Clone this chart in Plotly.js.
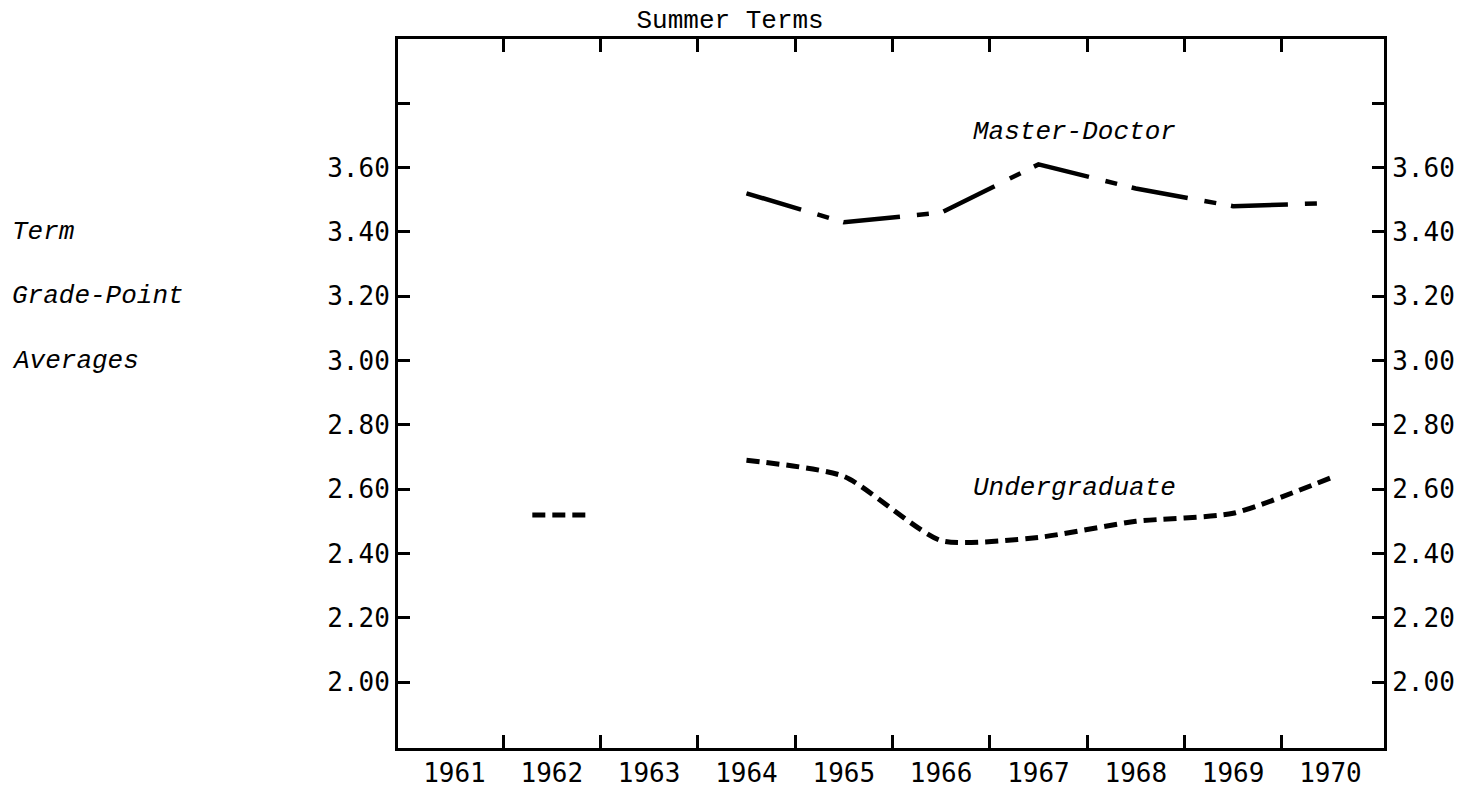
<!DOCTYPE html>
<html>
<head>
<meta charset="utf-8">
<script src="https://cdn.plot.ly/plotly-3.0.1.min.js"></script>
<style>
  html, body { margin: 0; padding: 0; background: #ffffff; }
  #chart { width: 1469px; height: 787px; }
</style>
</head>
<body>
<div id="chart"></div>
<script>
// ---- data ----
var underYears = [1964, 1965, 1966, 1967, 1968, 1969, 1970];
var underGPA   = [2.69, 2.64, 2.44, 2.45, 2.50, 2.525, 2.635];
var under1962Year = 1962;
var under1962GPA  = 2.52;
var masterYears = [1964, 1965, 1966, 1967, 1968, 1969, 1970];
var masterGPA   = [3.52, 3.43, 3.46, 3.61, 3.535, 3.48, 3.49];
var yearLabels = ['1961','1962','1963','1964','1965','1966','1967','1968','1969','1970'];
var yTickVals  = [2.0, 2.2, 2.4, 2.6, 2.8, 3.0, 3.2, 3.4, 3.6, 3.8];
var yTickText  = ['2.00','2.20','2.40','2.60','2.80','3.00','3.20','3.40','3.60',''];
var sideLabels = ['Term', 'Grade-Point', 'Averages'];
var sideLabelY = [3.40, 3.20, 3.00];

// ---- derived helpers ----
var yearVals = yearLabels.map(Number);
var boundaryVals = yearVals.slice(0, -1).map(function (v) { return v + 0.5; });
var halfBar = [-0.2, 0.37]; // visual extent of the lone 1962 mark

var xRange = [1960.42, 1970.55];
var yRange = [1.795, 4.0];

var ink = '#000000';
var monoSerif = 'Courier, "Courier New", "Nimbus Mono PS", "Nimbus Mono L", FreeMono, "Liberation Mono", monospace';
var tickFont = { family: 'DejaVu Sans Mono, monospace', size: 26, color: ink };
var italicFont = { family: monoSerif, size: 26, color: ink, style: 'italic' };

var traces = [
  {
    x: underYears, y: underGPA, type: 'scatter', mode: 'lines',
    line: { color: ink, width: 5, dash: '13px,7px', shape: 'spline', smoothing: 0.6 },
    xaxis: 'x', yaxis: 'y', hoverinfo: 'skip'
  },
  {
    x: halfBar.map(function (d) { return under1962Year + d; }),
    y: [under1962GPA, under1962GPA],
    type: 'scatter', mode: 'lines',
    line: { color: ink, width: 5, dash: '13px,7px' },
    xaxis: 'x', yaxis: 'y', hoverinfo: 'skip'
  },
  {
    x: masterYears, y: masterGPA, type: 'scatter', mode: 'lines',
    line: { color: ink, width: 4.5, dash: '57px,17px,12px,15px' },
    xaxis: 'x2', yaxis: 'y2', hoverinfo: 'skip'
  }
];

var annotations = [
  { x: 1967.37, y: 3.71, xref: 'x', yref: 'y', text: 'Master-Doctor', showarrow: false,
    font: italicFont, xanchor: 'center', yanchor: 'middle' },
  { x: 1967.37, y: 2.605, xref: 'x', yref: 'y', text: 'Undergraduate', showarrow: false,
    font: italicFont, xanchor: 'center', yanchor: 'middle' }
];
sideLabels.forEach(function (t, i) {
  annotations.push({ x: -0.3935, y: sideLabelY[i], xref: 'paper', yref: 'y', text: t,
    showarrow: false, font: italicFont, xanchor: 'left', yanchor: 'middle' });
});

var layout = {
  width: 1469, height: 787,
  paper_bgcolor: '#ffffff', plot_bgcolor: '#ffffff',
  margin: { l: 398, r: 85, t: 39, b: 39, pad: 0 },
  showlegend: false,
  title: {
    text: 'Summer Terms', xref: 'container', yref: 'container',
    x: 0.497, xanchor: 'center', y: 0.976, yanchor: 'middle',
    font: { family: monoSerif, size: 26, color: ink }
  },
  xaxis: {
    range: xRange, tickmode: 'array', tickvals: yearVals, ticktext: yearLabels,
    ticks: '', showgrid: false, zeroline: false,
    showline: true, mirror: true, linecolor: ink, linewidth: 3,
    tickfont: tickFont, fixedrange: true
  },
  xaxis2: {
    range: xRange, overlaying: 'x', anchor: 'y', side: 'bottom',
    tickmode: 'array', tickvals: boundaryVals, showticklabels: false,
    ticks: 'inside', ticklen: 13, tickwidth: 3, tickcolor: ink,
    showgrid: false, zeroline: false,
    showline: true, mirror: 'ticks', linecolor: ink, linewidth: 3, fixedrange: true
  },
  yaxis: {
    range: yRange, tickmode: 'array', tickvals: yTickVals, ticktext: yTickText,
    ticks: 'inside', ticklen: 12, tickwidth: 3, tickcolor: ink,
    showgrid: false, zeroline: false,
    showline: true, linecolor: ink, linewidth: 3,
    tickfont: tickFont, fixedrange: true
  },
  yaxis2: {
    range: yRange, overlaying: 'y', side: 'right', anchor: 'x',
    tickmode: 'array', tickvals: yTickVals, ticktext: yTickText,
    ticks: 'inside', ticklen: 12, tickwidth: 3, tickcolor: ink,
    showgrid: false, zeroline: false,
    showline: true, linecolor: ink, linewidth: 3,
    tickfont: tickFont, fixedrange: true
  },
  annotations: annotations
};

Plotly.newPlot('chart', traces, layout, { staticPlot: true, displayModeBar: false });
</script>
</body>
</html>
